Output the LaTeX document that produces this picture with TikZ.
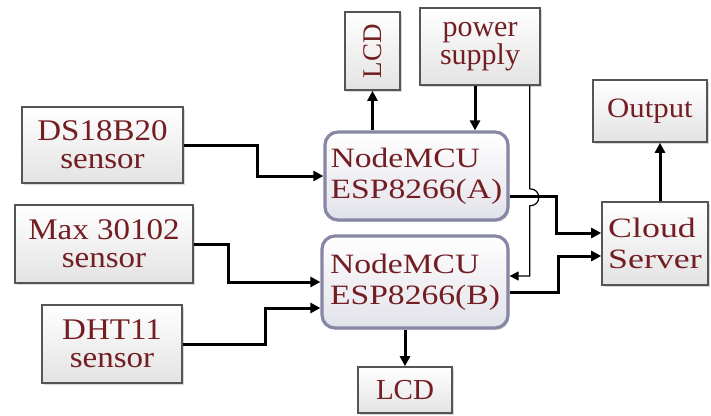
\documentclass[tikz,border=0pt]{standalone}
\usepackage{fontspec}
\setmainfont{Liberation Serif}
\newfontfamily\wideA[FakeStretch=1.2]{Liberation Serif}
\newfontfamily\wideB[FakeStretch=1.28]{Liberation Serif}
\newfontfamily\wideC[FakeStretch=1.1]{Liberation Serif}
\usetikzlibrary{arrows.meta,shadows}
\definecolor{txt}{RGB}{115,30,35}
\definecolor{bord}{RGB}{85,85,85}
\definecolor{mcub}{RGB}{135,135,165}
\definecolor{mcuf}{RGB}{226,226,234}
\tikzset{
 sbox/.style={rectangle, draw=bord, line width=1.6pt, top color=white, bottom color=gray!22, text=txt, inner sep=0pt,
   drop shadow={shadow xshift=1.5pt, shadow yshift=-1.5pt, fill=gray!60}},
 mcu/.style={rectangle, rounded corners=13pt, draw=mcub, line width=3.2pt, top color=white, bottom color=mcuf, text=txt,
   inner sep=0pt, align=left, font=\wideA\fontsize{28}{31}\selectfont,
   drop shadow={shadow xshift=1.5pt, shadow yshift=-2pt, fill=gray!50}},
 sens/.style={align=center, font=\wideC\fontsize{30}{28}\selectfont},
 arr/.style={line width=3pt, -{Triangle[length=10pt,width=10pt]}},
 thinarr/.style={line width=1.2pt, -{Triangle[length=9pt,width=9pt]}},
}
\begin{document}
\begin{tikzpicture}[x=1pt,y=-1pt]
\useasboundingbox (0,0) rectangle (711,415);
% sensors
\node[sbox, sens, minimum width=161pt, minimum height=76pt] (ds) at (102.5,145) {DS18B20\\sensor};
\node[sbox, sens, minimum width=178pt, minimum height=78pt] (mx) at (104,244) {Max 30102\\sensor};
\node[sbox, sens, minimum width=140pt, minimum height=78pt] (dht) at (112,344) {DHT11\\sensor};
% top
\node[sbox, minimum width=55pt, minimum height=78pt, font=\fontsize{27}{27}\selectfont] (lcdt) at (372.5,51) {\rotatebox{90}{LCD}};
\node[sbox, minimum width=120pt, minimum height=77pt, align=center, font=\fontsize{30}{28}\selectfont] (ps) at (480,46.5) {power\\supply};
% MCUs
\node[mcu, minimum width=183pt, minimum height=88pt] (na) at (416.5,176) {NodeMCU\\ESP8266(A)};
\node[mcu, minimum width=186pt, minimum height=92pt] (nb) at (415,282) {NodeMCU\\ESP8266(B)};
% right
\node[sbox, minimum width=106pt, minimum height=83pt, align=left, font=\wideB\fontsize{28}{31}\selectfont] (cs) at (655,243.5) {Cloud\\Server};
\node[sbox, minimum width=114pt, minimum height=62pt, font=\wideC\fontsize{28}{28}\selectfont] (out) at (650,111) {Output};
\node[sbox, minimum width=94pt, minimum height=46pt, font=\fontsize{29}{29}\selectfont] (lcdb) at (405,390) {LCD};
% connectors
\draw[arr] (ds.east) -- ++(74,0) |- (na.west);
\draw[arr] (mx.east) -- ++(35,0) |- (nb.west);
\draw[arr] (dht.east) -- ++(83,0) |- ([yshift=-26pt]nb.west);
\draw[arr] ([yshift=-20pt]na.east) -- ++(47,0) |- ([yshift=10.5pt]cs.west);
\draw[arr] ([yshift=-10pt]nb.east) -- ++(49,0) |- ([yshift=-12.5pt]cs.west);
\draw[arr] ([xshift=5pt]cs.north) -- ([xshift=5pt]cs.north |- out.south);
\draw[arr] (na.north -| lcdt.south) -- (lcdt.south);
\draw[arr] ([xshift=-5pt]ps.south) -- ([xshift=-5pt]ps.south |- na.north);
\draw[arr] (nb.south -| lcdb.north) -- (lcdb.north);
\coordinate (p0) at ([xshift=-11pt]ps.south east);
\draw[thinarr] (p0) -- ++(0,103) .. controls +(12,0) and +(12,0) .. ++(0,17) |- ([yshift=6pt]nb.east);
\end{tikzpicture}
\end{document}
